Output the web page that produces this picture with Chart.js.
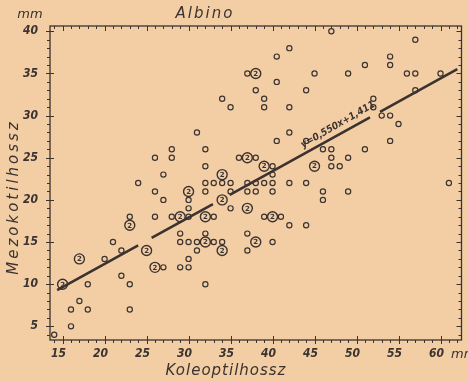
<!DOCTYPE html>
<html>
<head>
<meta charset="utf-8">
<script src="https://cdn.jsdelivr.net/npm/chart.js@4.4.1/dist/chart.umd.min.js"></script>
<style>
  html, body { margin: 0; background: #f3cea5; }
  canvas { display: block; }
</style>
</head>
<body>
<canvas id="chart" width="468" height="382"></canvas>
<script>
// Koleoptil / mezokotil lengths (mm), one ring per observation
const singleX = [47, 57, 42, 40.5, 54, 54, 51, 37, 45, 49, 56, 57, 60, 40.5, 38, 44, 57, 34, 39, 52,
  35, 39, 42, 52, 53, 54, 55, 31, 42, 40.5, 44, 54, 26, 28, 28, 32, 36, 38, 27, 32,
  40, 40, 46, 47, 47, 49, 51, 47, 48, 24, 32, 33, 34, 35, 37, 38, 39, 40, 42, 44,
  61, 26, 32, 35, 37, 38, 40, 46, 49, 27, 30, 46, 30, 35, 23, 26, 28, 30, 33, 39,
  41, 42, 44, 29, 32, 37, 21, 29, 30, 31, 33, 34, 40, 22, 31, 37, 20, 30, 27, 29,
  30, 22, 23, 32, 18, 17, 16, 18, 23, 16, 14];
const singleY = [40, 39, 38, 37, 37, 36, 36, 35, 35, 35, 35, 35, 35, 34, 33, 33, 33, 32, 32, 32,
  31, 31, 31, 31, 30, 30, 29, 28, 28, 27, 27, 27, 25, 26, 25, 26, 25, 25, 23, 24,
  24, 23, 26, 26, 25, 25, 26, 24, 24, 22, 22, 22, 22, 22, 22, 22, 22, 22, 22, 22,
  22, 21, 21, 21, 21, 21, 21, 21, 21, 20, 20, 20, 19, 19, 18, 18, 18, 18, 18, 18,
  18, 17, 17, 16, 16, 16, 15, 15, 15, 15, 15, 15, 15, 14, 14, 14, 13, 13, 12, 12,
  12, 11, 10, 10, 10, 8, 7, 7, 7, 5, 4];

// two coinciding observations: larger ring with a "2"
const pairX = [38, 37, 34, 39, 45, 30, 34, 37, 29, 32, 40, 23, 32, 38, 25, 34, 17, 26, 15];
const pairY = [35, 25, 23, 24, 24, 21, 20, 19, 18, 18, 18, 17, 15, 15, 14, 14, 13, 12, 10];

// regression y = 0,550 x + 1,411
const fitSlope = 0.550;
const fitIntercept = 1.411;
const fitLabel = 'y=0,550x+1,411';
// pieces of the fit line; it is broken where it runs into rings
const fitSegments = [[14.35, 24.0], [25.6, 32.9], [34.9, 51.6], [52.8, 62.0]];

const xRange = [13.5, 62.5];
const yRange = [3.38, 40.63];

const ink = '#3a3330';
const numFamily = '"DejaVu Sans Condensed", "DejaVu Sans", sans-serif';

const fitData = [];
fitSegments.forEach(([a, b], i) => {
  if (i > 0) fitData.push({ x: a, y: null });
  fitData.push({ x: a, y: fitSlope * a + fitIntercept });
  fitData.push({ x: b, y: fitSlope * b + fitIntercept });
});

const paper = {
  id: 'paper',
  beforeDraw(chart) {
    const { ctx, width, height } = chart;
    ctx.save();
    ctx.fillStyle = '#f3cea5';
    ctx.fillRect(0, 0, width, height);
    ctx.restore();
  }
};

const decorations = {
  id: 'decorations',
  afterDatasetsDraw(chart) {
    const { ctx, chartArea: a, scales: { x, y } } = chart;
    ctx.save();
    ctx.strokeStyle = ink;
    ctx.fillStyle = ink;

    // frame
    ctx.lineWidth = 1.3;
    ctx.strokeRect(a.left, a.top, a.right - a.left, a.bottom - a.top);

    // 1 mm ticks, crosses on every 5 mm
    ctx.lineWidth = 1;
    ctx.beginPath();
    for (let v = Math.ceil(xRange[0]); v <= xRange[1]; v++) {
      const px = Math.round(x.getPixelForValue(v)) + 0.5;
      const major = v % 5 === 0;
      ctx.moveTo(px, a.bottom - (major ? 4 : 0));
      ctx.lineTo(px, a.bottom + (major ? 4 : 3));
      ctx.moveTo(px, a.top);
      ctx.lineTo(px, a.top + (major ? 5 : 3));
    }
    for (let v = Math.ceil(yRange[0]); v <= yRange[1]; v++) {
      const py = Math.round(y.getPixelForValue(v)) + 0.5;
      const major = v % 5 === 0;
      ctx.moveTo(a.left - (major ? 4 : 3), py);
      ctx.lineTo(a.left + (major ? 4 : 0), py);
      ctx.moveTo(a.right, py);
      ctx.lineTo(a.right - (major ? 5 : 3), py);
    }
    ctx.stroke();

    // counts inside the larger rings
    ctx.font = 'bold 7px "DejaVu Sans", sans-serif';
    ctx.textAlign = 'center';
    ctx.textBaseline = 'middle';
    chart.getDatasetMeta(1).data.forEach(pt => ctx.fillText('2', pt.x, pt.y + 0.5));

    // equation along the line
    ctx.save();
    ctx.translate(x.getPixelForValue(47.8), y.getPixelForValue(28.9));
    ctx.rotate(-30 * Math.PI / 180);
    ctx.font = 'italic bold 10px ' + numFamily;
    ctx.fillText(fitLabel, 0, 0);
    ctx.restore();

    // titles and units
    ctx.font = 'italic 15px "DejaVu Sans", sans-serif';
    ctx.letterSpacing = '2px';
    ctx.fillText('Albino', 205, 14);
    ctx.letterSpacing = '1px';
    ctx.fillText('Koleoptilhossz', 226, 371);
    ctx.save();
    ctx.translate(14, 197);
    ctx.rotate(-Math.PI / 2);
    ctx.letterSpacing = '3px';
    ctx.fillText('Mezokotilhossz', 0, 0);
    ctx.restore();
    ctx.letterSpacing = '0px';
    ctx.font = 'italic 13px "DejaVu Sans", sans-serif';
    ctx.fillText('mm', 30, 15);
    ctx.textAlign = 'left';
    ctx.fillText('mm', 451, 355);
    ctx.restore();
  }
};

const tickFont = { family: numFamily, size: 12, style: 'italic', weight: 'bold' };

new Chart(document.getElementById('chart'), {
  data: {
    datasets: [
      {
        type: 'scatter',
        label: 'egy mérés',
        data: singleX.map((v, i) => ({ x: v, y: singleY[i] })),
        pointRadius: 2.6,
        pointBorderWidth: 1.2,
        pointBorderColor: ink,
        pointBackgroundColor: 'rgba(0,0,0,0)'
      },
      {
        type: 'scatter',
        label: 'két mérés',
        data: pairX.map((v, i) => ({ x: v, y: pairY[i] })),
        pointRadius: 5,
        pointBorderWidth: 1.4,
        pointBorderColor: ink,
        pointBackgroundColor: 'rgba(0,0,0,0)'
      },
      {
        type: 'line',
        label: fitLabel,
        data: fitData,
        borderColor: ink,
        borderWidth: 2.6,
        pointRadius: 0,
        spanGaps: false,
        fill: false
      }
    ]
  },
  options: {
    responsive: false,
    animation: false,
    devicePixelRatio: 1,
    layout: { padding: { top: 26, right: 6.5, left: 0, bottom: 0 } },
    plugins: { legend: { display: false }, tooltip: { enabled: false } },
    scales: {
      x: {
        type: 'linear',
        min: xRange[0],
        max: xRange[1],
        grid: { display: false, drawTicks: false },
        border: { display: false },
        ticks: { stepSize: 5, includeBounds: false, labelOffset: -4, padding: 7, color: ink, font: tickFont, maxRotation: 0 },
        afterFit(s) { s.height = 42; }
      },
      y: {
        type: 'linear',
        min: yRange[0],
        max: yRange[1],
        grid: { display: false, drawTicks: false },
        border: { display: false },
        ticks: { stepSize: 5, includeBounds: false, padding: 12, color: ink, font: tickFont },
        afterFit(s) { s.width = 50; }
      }
    }
  },
  plugins: [paper, decorations]
});
</script>
</body>
</html>
